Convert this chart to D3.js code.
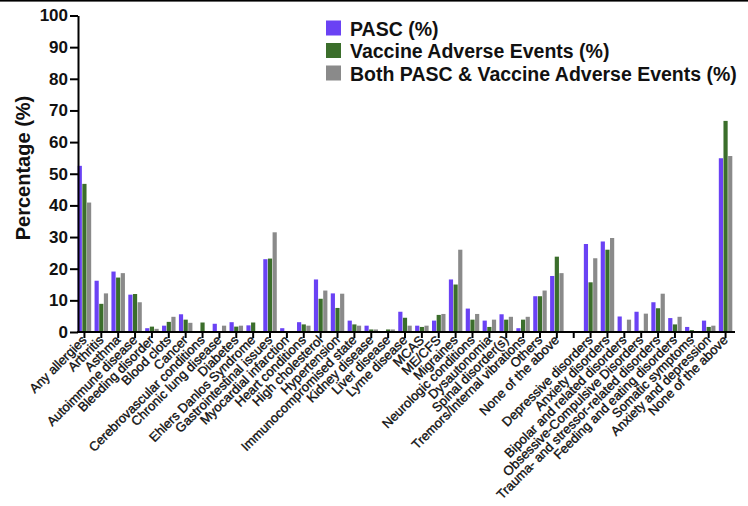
<!DOCTYPE html>
<html>
<head>
<meta charset="utf-8">
<script src="https://cdn.jsdelivr.net/npm/d3@7"></script>
<style>
  html, body { margin: 0; padding: 0; background: #fff; }
  svg { display: block; font-family: "Liberation Sans", Arial, sans-serif; }
</style>
</head>
<body>
<svg id="chart" width="748" height="506"></svg>
<script>
// ---- data ----
const categories = [
  "Any allergies", "Arthritis", "Asthma", "Autoimmune disease", "Bleeding disorder",
  "Blood clots", "Cancer", "Cerebrovascular conditions", "Chronic lung disease", "Diabetes",
  "Ehlers Danlos Syndrome", "Gastrointestinal issues", "Myocardial infarction", "Heart conditions",
  "High cholesterol", "Hypertension", "Immunocompromised state", "Kidney disease", "Liver disease",
  "Lyme disease", "MCAS", "ME/CFS", "Migraines", "Neurologic conditions", "Dysautonomia",
  "Spinal disorder(s)", "Tremors/Internal vibrations", "Others", "None of the above",
  "",
  "Depressive disorders", "Anxiety disorders", "Bipolar and related disorders",
  "Obsessive-Compulsive Disorders", "Trauma- and stressor-related disorders",
  "Feeding and eating disorders", "Somatic symptoms", "Anxiety and depression", "None of the above"
];
const seriesNames = ["PASC (%)", "Vaccine Adverse Events (%)", "Both PASC & Vaccine Adverse Events (%)"];
const pascValues = [
  52.5, 16.2, 19.1, 11.8, 1.2, 2.0, 5.6, 0, 2.6, 3.1,
  2.1, 23.0, 1.2, 3.1, 16.6, 12.2, 3.6, 2.0, 0.3,
  6.4, 2.0, 3.6, 16.6, 7.4, 3.6, 5.6, 1.2, 11.3, 17.7,
  null,
  27.8, 28.6, 4.9, 6.4, 9.4, 4.4, 1.6, 3.6, 54.9
];
const vaccineValues = [
  46.8, 8.9, 17.2, 12.0, 1.7, 3.2, 3.9, 3.0, 0, 1.7,
  3.0, 23.2, 0, 2.4, 10.5, 7.6, 2.4, 0.8, 0.8,
  4.5, 1.6, 5.4, 15.0, 3.9, 1.6, 3.9, 3.9, 11.3, 23.8,
  null,
  15.7, 26.0, 0, 0.4, 7.5, 2.4, 0.6, 1.6, 66.7
];
const bothValues = [
  40.9, 12.2, 18.6, 9.4, 1.0, 4.8, 2.9, 0, 2.0, 2.0,
  0, 31.5, 0, 2.0, 13.1, 12.1, 2.0, 0.8, 0.8,
  2.0, 2.0, 5.7, 26.0, 5.7, 3.9, 4.8, 4.8, 13.1, 18.6,
  null,
  23.3, 29.7, 3.9, 5.8, 12.1, 4.8, 0, 2.0, 55.6
];
const yTicks = [0, 10, 20, 30, 40, 50, 60, 70, 80, 90, 100];
const colors = ["#6a42f4", "#3b6e2b", "#8a8a8a"];

// ---- layout ----
const svg = d3.select("#chart");
const W = 748, H = 506;
const plotLeft = 78, plotRight = 734, plotTop = 15.5, plotBottom = 332;

svg.append("rect").attr("x", 0).attr("y", 0).attr("width", W).attr("height", 1.6).attr("fill", "#000");

const slots = categories.map((c, i) => i);
const x0 = d3.scaleBand().domain(slots).range([76, 734]).paddingInner(0.2).paddingOuter(0.1);
const x1 = d3.scaleBand().domain([0, 1, 2]).range([0, x0.bandwidth()]).paddingInner(0.1);
const y = d3.scaleLinear().domain([0, 100]).range([plotBottom, plotTop]);

const seriesData = [pascValues, vaccineValues, bothValues];

// bars
const groups = svg.append("g").selectAll("g").data(slots).join("g")
  .attr("transform", i => `translate(${x0(i)},0)`);
groups.selectAll("rect")
  .data(i => seriesData.map((arr, s) => ({ s, v: arr[i] })).filter(d => d.v != null && d.v > 0))
  .join("rect")
  .attr("x", d => x1(d.s))
  .attr("width", x1.bandwidth())
  .attr("y", d => y(d.v))
  .attr("height", d => plotBottom - y(d.v))
  .attr("fill", d => colors[d.s]);

// y axis
const yAxis = d3.axisLeft(y).tickValues(yTicks).tickSize(8).tickPadding(2).tickSizeOuter(0);
const gy = svg.append("g").attr("transform", `translate(${plotLeft},0)`).call(yAxis);
gy.select(".domain").attr("stroke", "#000").attr("stroke-width", 2);
gy.selectAll(".tick line").attr("stroke", "#000").attr("stroke-width", 2);
gy.selectAll(".tick text").attr("font-size", 17).attr("font-weight", "bold")
  .attr("fill", "#111").attr("font-family", "Liberation Sans, Arial, sans-serif");

// x axis line & ticks
const gx = svg.append("g");
gx.append("line").attr("x1", plotLeft - 1).attr("x2", plotRight + 1)
  .attr("y1", plotBottom).attr("y2", plotBottom).attr("stroke", "#000").attr("stroke-width", 2);
gx.selectAll("line.tk").data(slots).join("line").attr("class", "tk")
  .attr("x1", i => x0(i) + x0.bandwidth() / 2).attr("x2", i => x0(i) + x0.bandwidth() / 2)
  .attr("y1", plotBottom).attr("y2", plotBottom + 6).attr("stroke", "#000").attr("stroke-width", 2);
gx.selectAll("text").data(slots.filter(i => categories[i] !== "")).join("text")
  .attr("transform", i => `translate(${x0(i) + x0.bandwidth() / 2 + 3},${plotBottom + 9}) rotate(-45)`)
  .attr("text-anchor", "end")
  .attr("font-size", 13)
  .attr("fill", "#111")
  .attr("stroke", "#111")
  .attr("stroke-width", 0.35)
  .text(i => categories[i]);

// y label
svg.append("text")
  .attr("transform", "translate(30,168) rotate(-90)")
  .attr("text-anchor", "middle")
  .attr("font-size", 20).attr("font-weight", "bold").attr("fill", "#111")
  .text("Percentage (%)");

// legend
const lg = svg.append("g");
seriesNames.forEach((name, i) => {
  const by = 35.5 + i * 22.5;
  lg.append("rect").attr("x", 326).attr("y", by - 15).attr("width", 15).attr("height", 15).attr("fill", colors[i]);
  lg.append("text").attr("x", 350).attr("y", by).attr("font-size", 19.5).attr("font-weight", "bold")
    .attr("fill", "#111").text(name);
});
</script>
</body>
</html>
